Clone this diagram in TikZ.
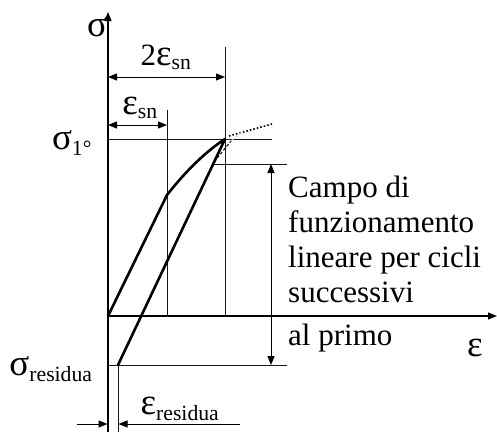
\documentclass[tikz,border=0pt]{standalone}
\usepackage{fontspec}
\setmainfont{Liberation Serif}
\usetikzlibrary{arrows.meta}
\newcommand{\gr}[1]{{\fontsize{37}{37}\selectfont #1}}
\tikzset{
  >={Triangle[length=9pt,width=7pt]},
  quota/.style={line width=1pt,<->},
  guide/.style={line width=1pt,gray!20!black},
  curve/.style={line width=2.6pt,line join=round,line cap=round},
  lbl/.style={inner sep=0pt,font=\fontsize{31}{35}\selectfont}
}
\begin{document}
\begin{tikzpicture}[x=1pt,y=-1pt]
	\useasboundingbox (0,0) rectangle (497,432);
	\coordinate (O) at (108,316);
	\coordinate (K) at (167,195);
	\coordinate (S) at (225,139);
	\coordinate (R) at (118,365);
	% assi
	\draw[line width=1.1pt,->] (108,432)--(108,12);
	\draw[line width=1.1pt,->] (O)--(497,316);
	\node[lbl] (sig) at (97,27) {\gr{σ}};
	\node[lbl] (eps) at (475,348) {\gr{ε}};
	% linee di riferimento
	\draw[guide] (167,110)--(167,316);
	\draw[guide] (225,47)--(225,316);
	\draw[guide] (108,139)--(272,139);
	\draw[guide] (212,164)--(287,164);
	\draw[guide] (108,365)--(287,365);
	\draw[guide] (118,365)--(118,432);
	% quote
	\draw[quota] (108,77)--(225,77);
	\draw[quota] (108,125)--(167,125);
	\draw[quota] (271,164)--(271,365);
	\draw[line width=1pt,->] (77,424)--(107.5,424);
	\draw[line width=1pt,->] (240,424)--(118.5,424);
	\node[lbl] (due) at (166,57) {2\gr{ε}\textsubscript{sn}};
	\node[lbl] (esn) at (140,108) {\gr{ε}\textsubscript{sn}};
	\node[lbl] (sig1) at (72,143) {\gr{σ}\textsubscript{1°}};
	\node[lbl] (sigr) at (51,369) {\gr{σ}\textsubscript{residua}};
	\node[lbl] (epsr) at (180,409) {\gr{ε}\textsubscript{residua}};
	\node[lbl,anchor=north west,align=left] (campo) at (288,176)
		{Campo di\\funzionamento\\lineare per cicli\\successivi\\[8pt]al primo};
	% curva di carico e scarico
	\draw[curve] (O)--(K) .. controls (185,172) and (205,152) .. (S)--(R);
	\draw[line width=1.6pt,dotted] (229,136)--(272,124);
	\draw[line width=1pt,dash pattern=on 3pt off 2pt] (214,162)--(231,141);
	\draw[line width=1pt,gray!40,dash pattern=on 3pt off 2pt] (231,141)--(244,130);
\end{tikzpicture}
\end{document}
